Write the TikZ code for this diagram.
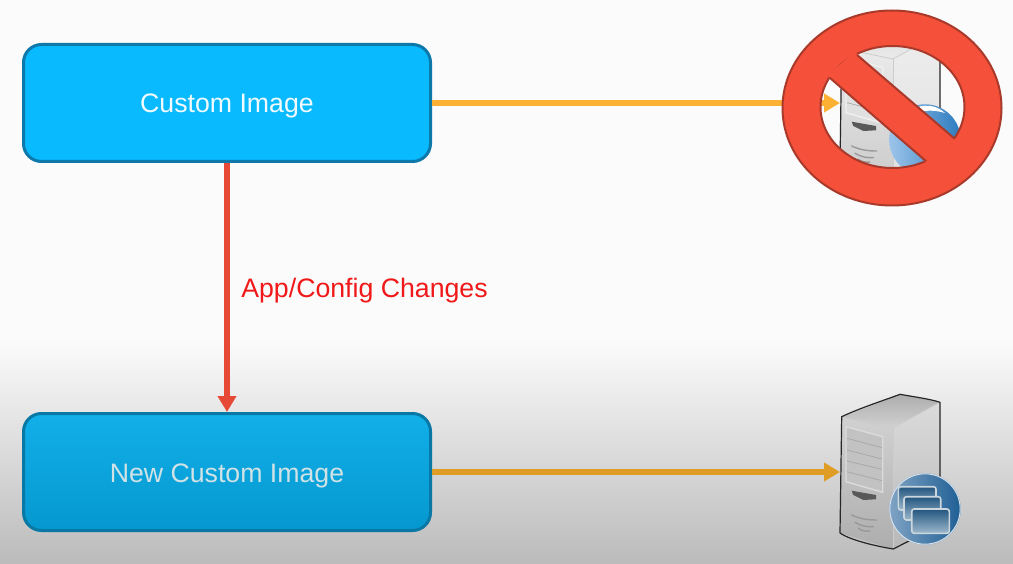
\documentclass[tikz,border=0pt]{standalone}
\usepackage{fontspec}
\setmainfont{Liberation Sans}
\usetikzlibrary{arrows.meta}
\definecolor{bgtop}{HTML}{FBFBFB}
\definecolor{bgmid}{HTML}{EDEDED}
\definecolor{bgbot}{HTML}{BBBBBB}
\definecolor{signred}{HTML}{F4503A}
\definecolor{signedge}{HTML}{A93A2B}
\definecolor{arrowred}{HTML}{E64A36}
\definecolor{labelred}{HTML}{F01818}
\definecolor{winedge}{HTML}{CBD6DD}
\definecolor{winA}{HTML}{23557F}
\definecolor{winB}{HTML}{9CB8CC}
\definecolor{boxAfill}{HTML}{09BAFF}
\definecolor{boxAedge}{HTML}{0D79AB}
\definecolor{boxBtop}{HTML}{12AFE9}
\definecolor{boxBbot}{HTML}{0598CF}
\definecolor{boxBedge}{HTML}{0A78A5}
\definecolor{boxAtext}{HTML}{F0FAFF}
\definecolor{boxBtext}{HTML}{CFE2E6}
\definecolor{flowA}{HTML}{FCB034}
\definecolor{flowB}{HTML}{E09D26}
\definecolor{ballL}{HTML}{9CC4EA}
\definecolor{ballR}{HTML}{2C7BBE}
\definecolor{badgeL}{HTML}{7FA3C4}
\definecolor{badgeR}{HTML}{1F5F94}
\tikzset{
  imgbox/.style={rounded corners=18pt,line width=3pt,minimum width=407pt,minimum height=117pt,inner sep=0pt,text height=20pt,text depth=0pt,font=\fontsize{26.7}{30}\selectfont},
  flow/.style={line width=6pt,-{Triangle[length=16pt,width=18pt]}},
  change/.style={flow,draw=arrowred},
  srvedge/.style={draw=black!85,line width=1.2pt,line join=round},
  winbox/.style={rounded corners=2.5pt,top color=winA,bottom color=winB},
  winline/.style={draw=winedge,line width=1.6pt,rounded corners=2.5pt},
}
% #1 front top, #2 front bottom, #3 side top, #4 side bottom, #5 roof back, #6 roof front, #7 panel, #8 panel edge
\newcommand{\serverbody}[8]{%
  \shade[top color=#1,bottom color=#2] (842,417) -- (893,428) -- (893,549) -- (840,533) -- cycle;
  \shade[top color=#3,bottom color=#4] (893,428) -- (940,402) -- (940,525) -- (893,549) -- cycle;
  \shade[top color=#5,bottom color=#6] (842,417) -- (900,394.5) -- (940,402) -- (893,428) -- cycle;
  \draw[white!80!black,line width=.8pt] (842.5,417.5) -- (893,428) -- (939.5,402.5);
  \draw[white!80!black,line width=1pt] (893,428) -- (893,548);
  \draw[srvedge] (841.7,416.7) .. controls (860,408) and (885,400) .. (900,394.3) .. controls (915,397) and (930,399) .. (940,402.3) -- (940,525) -- (893.3,549) .. controls (875,546) and (850,540) .. (840,533) -- cycle;
  \fill[#7,draw=#8,line width=1.4pt] (846,426.7) -- (882.7,436.7) -- (882.7,492.3) -- (846,481.7) -- cycle;
  \foreach \ya/\yb in {438.3/447.7,450/459,461/469.3,471.7/480.7}
    \draw[black!35,line width=.7pt] (847,\ya) -- (882,\yb);
  \fill[black!65] (851.7,490.7) -- (876,495) -- (876,499.3) -- (863.3,500) -- (853.3,495) -- cycle;
  \draw[black!40,line width=1.4pt,line cap=round] (851.7,515) .. controls (860,519) and (868,520) .. (876.7,520);
  \draw[black!40,line width=1.4pt,line cap=round] (855,522.3) .. controls (861,526) and (867,527) .. (873.3,526.7);
  \draw[black!40,line width=1.4pt,line cap=round] (858.3,528.3) .. controls (862,531) and (866,531.5) .. (870,531);
}
\begin{document}
\begin{tikzpicture}[x=1pt,y=-1pt]
\useasboundingbox (0,0) rectangle (1013,564);
\fill[bgtop] (0,0) rectangle (1013,340);
\shade[top color=bgtop,middle color=bgmid,bottom color=bgbot] (0,340) rectangle (1013,564);

% upper image box and target
\node[imgbox,draw=boxAedge,fill=boxAfill,text=boxAtext] (custom) at (227,103) {Custom Image};
\coordinate (srvA) at (840,103);
\coordinate (srvB) at (840,472);

% crossed-out server
\draw[flow,draw=flowA] (custom.east) -- (srvA);
\begin{scope}[yshift=369pt]
\serverbody{black!8}{black!20}{black!7}{black!12}{black!14}{black!8}{black!12}{black!6}
\shade[left color=ballL,right color=ballR] (925,509) circle (35.7);
\fill[white] (898,496) .. controls (905,475) and (930,468) .. (945,482) .. controls (925,476) and (910,482) .. (898,496) -- cycle;
\end{scope}

% sign
\fill[signred,draw=signedge,line width=2pt,even odd rule] (892,108) ellipse [x radius=109.5,y radius=97.5] (892.5,107) ellipse [x radius=72,y radius=61];
\fill[signred] (855,52) -- (827,75) -- (929,165) -- (958,142) -- cycle;
\begin{scope}
\clip (892.5,107) ellipse [x radius=72,y radius=61];
\draw[signedge,line width=2pt] (857,55) -- (955,139);
\draw[signedge,line width=2pt] (830,78) -- (927,162);
\end{scope}

% lower image box and server
\shade[rounded corners=18pt,top color=boxBtop,bottom color=boxBbot] (23.5,413.5) rectangle (430.5,530.5);
\node[imgbox,draw=boxBedge,text=boxBtext] (newcustom) at (227,472) {New Custom Image};
\draw[flow,draw=flowB] (newcustom.east) -- (srvB);
\serverbody{black!18}{black!32}{black!14}{black!28}{black!32}{black!18}{black!24}{black!14}
\shade[left color=badgeL,right color=badgeR] (925,509) circle (35.7);
\draw[white!70!badgeL,line width=1pt] (925,509) circle (35.2);
\shade[winbox] (898.3,486.7) rectangle (936,510);
\draw[winline] (898.3,486.7) rectangle (936,510);
\shade[winbox] (904,496.7) rectangle (940.7,520);
\draw[winline] (904,496.7) rectangle (940.7,520);
\shade[winbox] (911.7,509) rectangle (949.3,533.3);
\draw[winline] (911.7,509) rectangle (949.3,533.3);

% change arrow
\draw[change] (custom.south) -- node[pos=.505,right=8pt,yshift=1pt,text height=20pt,text depth=0pt,inner ysep=0pt,text=labelred,font=\fontsize{26.7}{30}\selectfont] (lbl) {App/Config Changes} (newcustom.north);
\end{tikzpicture}
\end{document}
